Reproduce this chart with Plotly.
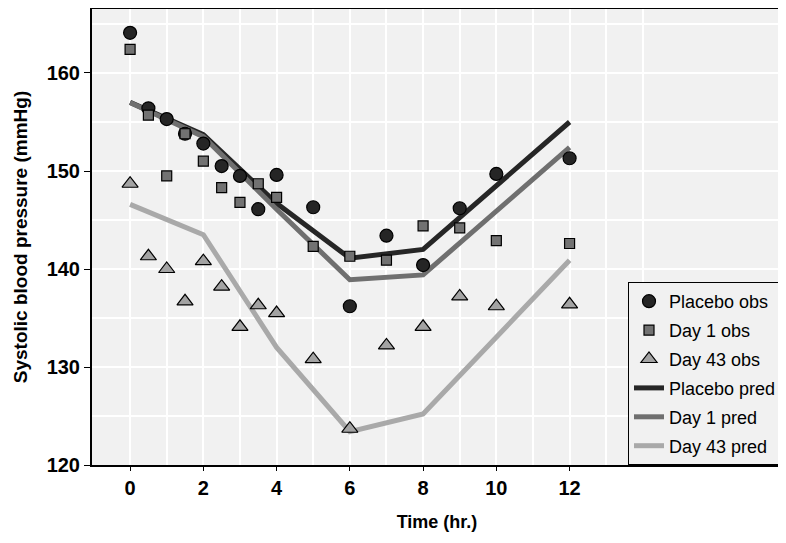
import plotly.graph_objects as go

# Observed times and values
obs_time = [0, 0.5, 1, 1.5, 2, 2.5, 3, 3.5, 4, 5, 6, 7, 8, 9, 10, 12]
placebo_obs = [164.1, 156.4, 155.3, 153.8, 152.8, 150.5, 149.5, 146.1, 149.6,
               146.3, 136.2, 143.4, 140.4, 146.2, 149.7, 151.3]
day1_obs = [162.4, 155.7, 149.5, 153.8, 151.0, 148.3, 146.8, 148.7, 147.3,
            142.3, 141.3, 140.9, 144.4, 144.2, 142.9, 142.6]
day43_obs = [148.7, 141.3, 140.0, 136.7, 140.8, 138.2, 134.1, 136.3, 135.5,
             130.8, 123.7, 132.2, 134.1, 137.2, 136.2, 136.4]

# Predicted curves
pred_time = [0, 2, 4, 6, 8, 12]
placebo_pred = [157.0, 153.7, 146.7, 141.1, 142.0, 155.0]
day1_pred = [157.0, 153.5, 146.1, 138.9, 139.4, 152.4]
day43_pred = [146.6, 143.5, 132.0, 123.4, 125.2, 140.9]

x_ticks = [0, 2, 4, 6, 8, 10, 12]
x_minor = [1, 3, 5, 7, 9, 11, 13, 14]
y_ticks = [120, 130, 140, 150, 160]
y_minor = [125, 135, 145, 155, 165]

FONT = "Liberation Sans, Arial, sans-serif"

fig = go.Figure()

line_specs = [
    ("Placebo pred", placebo_pred, "#262626", 4),
    ("Day 1 pred", day1_pred, "#6f6f6f", 5),
    ("Day 43 pred", day43_pred, "#a9a9a9", 6),
]
for name, vals, col, rank in line_specs:
    fig.add_trace(go.Scatter(
        x=pred_time, y=vals, mode="lines", name=name,
        line=dict(color=col, width=5), legendrank=rank, legendgroup=name,
    ))

marker_specs = [
    ("Placebo obs", placebo_obs, "circle", "#252525", 13, 1),
    ("Day 1 obs", day1_obs, "square", "#727272", 10, 2),
    ("Day 43 obs", day43_obs, "triangle-up", "#a3a3a3", 14, 3),
]
for name, vals, sym, col, size, rank in marker_specs:
    fig.add_trace(go.Scatter(
        x=obs_time, y=vals, mode="markers", name=name,
        marker=dict(symbol=sym, color=col, size=size,
                    line=dict(color="#000000", width=1.2)),
        legendrank=rank, legendgroup=name,
    ))

# The page body has an 8px margin, so the figure is sized to fit the window.
fig.update_layout(
    width=778, height=535,
    margin=dict(l=84, r=4, t=1, b=78),
    paper_bgcolor="white",
    plot_bgcolor="#f1f1f1",
    font=dict(family=FONT, size=18, color="#000"),
    showlegend=True,
    legend=dict(
        x=1, y=0, xanchor="right", yanchor="bottom",
        bgcolor="#f1f1f1", bordercolor="#000", borderwidth=1,
        font=dict(size=18, color="#000", family=FONT),
        itemwidth=30, tracegroupgap=2.5,
    ),
)

fig.update_xaxes(
    range=[-1.04, 17.8], tickvals=x_ticks,
    ticktext=[str(v) for v in x_ticks],
    tickfont=dict(size=20, family=FONT, weight="bold"),
    showgrid=True, gridcolor="white", gridwidth=2,
    minor=dict(tickvals=x_minor, showgrid=True, gridcolor="white", gridwidth=2),
    showline=True, linecolor="#000", linewidth=2, mirror=True,
    ticks="outside", ticklen=4, tickcolor="#000",
    zeroline=False, automargin=False,
    title=dict(text="<b>Time (hr.)</b>", font=dict(size=18, family=FONT), standoff=17),
)
fig.update_yaxes(
    range=[120, 166.53], tickvals=y_ticks,
    tickfont=dict(size=20, family=FONT, weight="bold"),
    showgrid=True, gridcolor="white", gridwidth=2,
    minor=dict(tickvals=y_minor, showgrid=True, gridcolor="white", gridwidth=2),
    showline=True, linecolor="#000", linewidth=2, mirror=True,
    ticks="outside", ticklen=6, tickcolor="#000",
    zeroline=False, automargin=False,
    title=dict(text="<b>Systolic blood pressure (mmHg)</b>", font=dict(size=19, family=FONT), standoff=14),
)

fig.write_html("out.html")
